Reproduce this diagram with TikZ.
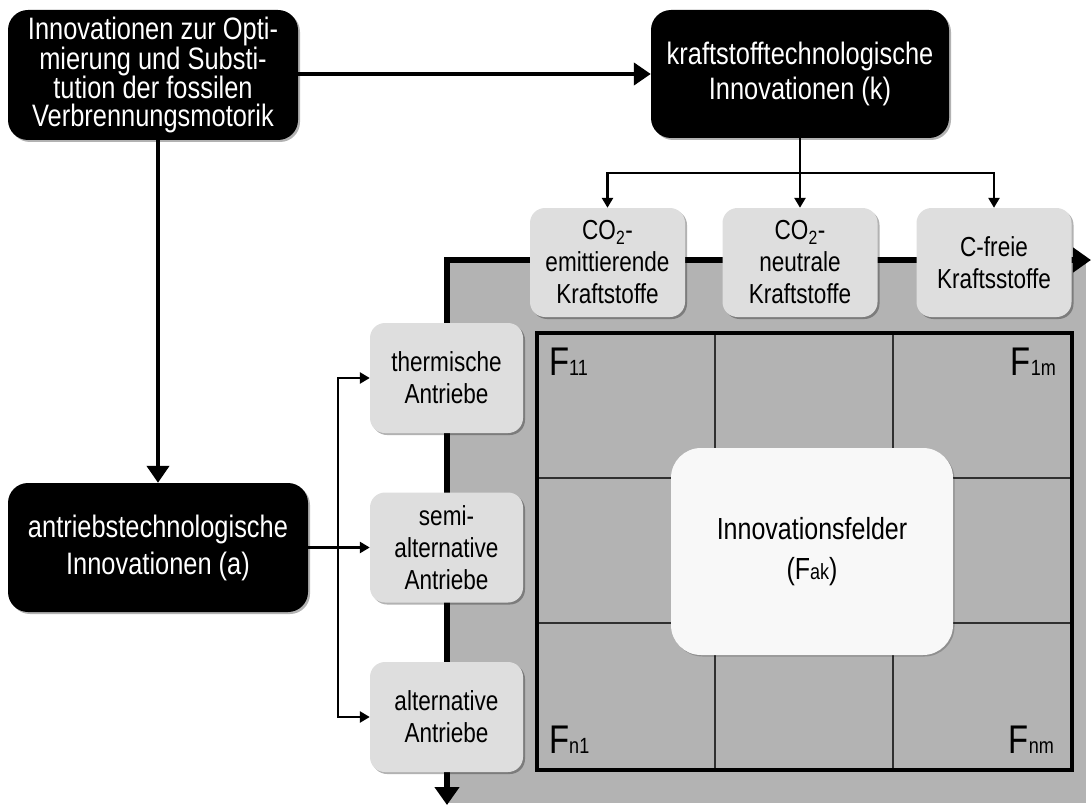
\documentclass[tikz,border=0pt]{standalone}
\usepackage{fontspec}
\setmainfont{Liberation Sans}[FakeStretch=0.82]
\usetikzlibrary{arrows.meta,shadows}
\definecolor{boxgrey}{HTML}{DEDEDE}
\definecolor{areagrey}{HTML}{B3B3B3}
\definecolor{centrefill}{HTML}{F8F8F8}
\definecolor{gridline}{HTML}{303030}
\begin{document}
\begin{tikzpicture}[x=1pt,y=-1pt,
  blackbox/.style={rectangle, rounded corners=20pt, fill=black, text=white, align=center, inner sep=0pt,
    drop shadow={shadow xshift=2pt, shadow yshift=-2pt, opacity=0.3, fill=black}},
  greybox/.style={rectangle, rounded corners=15pt, fill=boxgrey, align=center, inner sep=0pt,
    font=\fontsize{27.5}{32}\selectfont,
    drop shadow={shadow xshift=2pt, shadow yshift=-2pt, opacity=0.3, fill=black}},
  fuelbox/.style={greybox, minimum width=155pt, minimum height=109pt},
  drivebox/.style={greybox, minimum width=153pt, minimum height=110pt},
  mainarrow/.style={line width=4.5pt, -{Triangle[length=17pt,width=22pt]}},
  branchline/.style={line width=2.6pt},
  brancharrow/.style={line width=2.6pt, -{Triangle[length=10pt,width=11pt]}},
  axisarrows/.style={line width=6pt, {Triangle[length=18pt,width=24pt]}-{Triangle[length=18pt,width=24pt]}},
  gridthin/.style={line width=1.3pt, draw=gridline},
  gridframe/.style={line width=4pt, draw=black},
  flabel/.style={inner sep=0pt},
]
\useasboundingbox (0,0) rectangle (1091,805);

% grey field with axes
\fill[areagrey] (447,260) rectangle (1086,803);
\coordinate (ax-r) at (1091,260);
\coordinate (ax-c) at (447,260);
\coordinate (ax-b) at (447,805);
\draw[axisarrows] (ax-r) -- (ax-c) -- (ax-b);

% grid
\draw[gridthin] (715,333) -- (715,770);
\draw[gridthin] (893,333) -- (893,770);
\draw[gridthin] (537,478) -- (1072,478);
\draw[gridthin] (537,623) -- (1072,623);
\draw[gridframe] (537,333) rectangle (1072,770);

% field labels
\node[flabel, anchor=base west] (f11) at (549,375) {\fontsize{40}{40}\selectfont F\fontsize{22}{22}\selectfont 11};
\node[flabel, anchor=base east] (f1m) at (1056,375) {\fontsize{40}{40}\selectfont F\fontsize{22}{22}\selectfont 1m};
\node[flabel, anchor=base west] (fn1) at (549,753) {\fontsize{40}{40}\selectfont F\fontsize{22}{22}\selectfont n1};
\node[flabel, anchor=base east] (fnm) at (1054,753) {\fontsize{40}{40}\selectfont F\fontsize{22}{22}\selectfont nm};

% centre box
\node[rectangle, rounded corners=30pt, fill=centrefill, minimum width=282pt, minimum height=207pt,
  inner sep=0pt, align=center, font=\fontsize{30.5}{40}\selectfont,
  drop shadow={shadow xshift=1.5pt, shadow yshift=-1.5pt, opacity=0.2, fill=black}]
  (cf) at (812,551.5) {Innovationsfelder\\(F{\fontsize{22}{22}\selectfont ak})};

% black boxes
\node[blackbox, minimum width=290pt, minimum height=130pt, font=\fontsize{31}{28}\selectfont]
  (tl) at (153,75) {Innovationen zur Opti-\\mierung und Substi-\\tution der fossilen\\Verbrennungsmotorik};
\node[blackbox, minimum width=298pt, minimum height=128pt, font=\fontsize{31}{35}\selectfont]
  (k) at (800,74) {kraftstofftechnologische\\Innovationen (k)};
\node[blackbox, minimum width=300pt, minimum height=129pt, font=\fontsize{31}{37}\selectfont]
  (ab) at (158,547.5) {antriebstechnologische\\Innovationen (a)};

% fuel boxes
\node[fuelbox] (fu1) at (607.5,262.5) {CO\textsubscript{2}-\\emittierende\\Kraftstoffe};
\node[fuelbox] (fu2) at (800,262.5) {CO\textsubscript{2}-\\neutrale\\Kraftstoffe};
\node[fuelbox] (fu3) at (994,262.5) {C-freie\\Kraftsstoffe};

% drive boxes
\node[drivebox] (th) at (446.5,378) {thermische\\Antriebe};
\node[drivebox] (sa) at (446.5,547.5) {semi-\\alternative\\Antriebe};
\node[drivebox] (al) at (446.5,717) {alternative\\Antriebe};

% connectors
\draw[mainarrow] (tl.east |- k.west) -- (k.west);
\draw[mainarrow] (tl.south -| ab.north) -- (ab.north);

\coordinate (kj) at (800,173);
\draw[branchline] (k.south) -- (kj);
\draw[brancharrow] (kj) -| (fu1.north);
\draw[brancharrow] (kj) -- (fu2.north);
\draw[brancharrow] (kj) -| (fu3.north);

\coordinate (aj) at (338,547.5);
\draw[brancharrow] (ab.east) -- (sa.west);
\draw[brancharrow] (aj) |- (th.west);
\draw[brancharrow] (aj) |- (al.west);
\end{tikzpicture}
\end{document}
